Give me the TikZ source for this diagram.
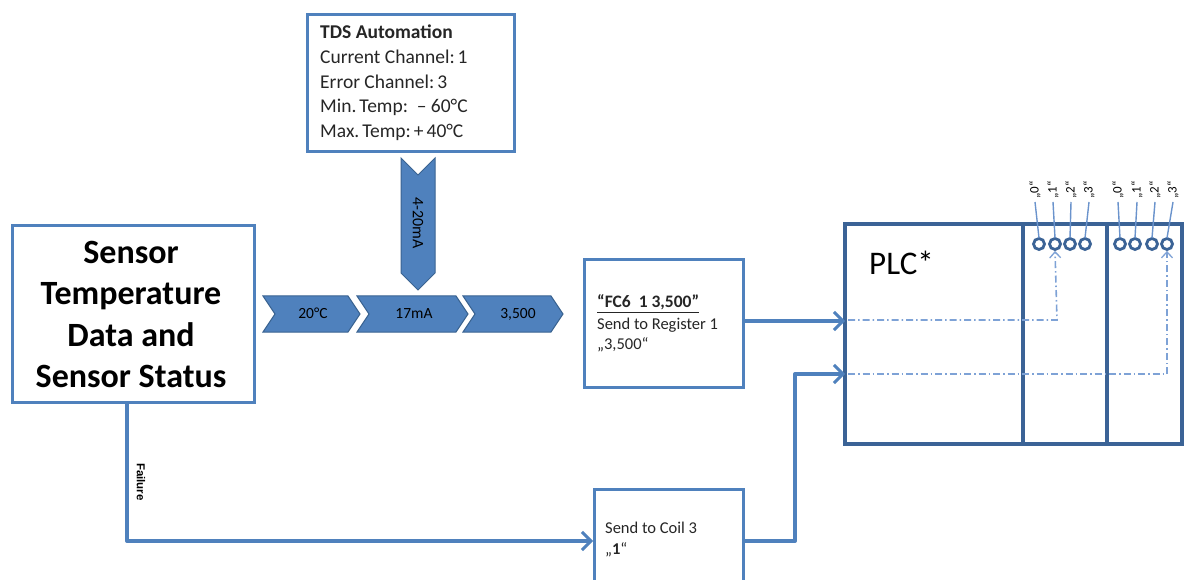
\documentclass[tikz,border=0pt]{standalone}
\usepackage{fontspec}
\setmainfont{Carlito}
\newfontfamily\arialf{Liberation Sans}
\usetikzlibrary{arrows.meta}
\definecolor{boxblue}{HTML}{4F81BD}
\definecolor{plcblue}{HTML}{3B6396}
\definecolor{chevborder}{HTML}{3A6391}
\definecolor{dashblue}{HTML}{7EA2D6}
\definecolor{tickblue}{HTML}{6A93CC}
\tikzset{
  box/.style={draw=boxblue, line width=3pt, fill=white, anchor=north west, inner sep=0pt},
  plcbox/.style={draw=plcblue, line width=3.5pt},
  conn/.style={draw=boxblue, line width=4pt, line join=round, -{Straight Barb[length=9pt,width=18pt,line width=3pt]}},
  chev/.style={fill=boxblue, draw=chevborder, line width=1pt},
  dashln/.style={draw=dashblue, line width=1.6pt, dash pattern=on 7pt off 3pt on 1.5pt off 3pt, -{Straight Barb[length=6pt,width=11pt,line width=1.3pt]}},
  tick/.style={draw=tickblue, line width=1.4pt},
  coil/.style={draw=plcblue, line width=2.8pt, circle, minimum size=11pt, inner sep=0pt},
  txt/.style={anchor=base west, inner sep=0pt, text=black!85},
  tdstxt/.style={txt, font=\fontsize{19.5}{25}\selectfont},
  sens/.style={anchor=base, inner sep=0pt, font=\fontsize{34}{41}\selectfont\bfseries},
  chevtxt/.style={anchor=base, inner sep=0pt, font=\fontsize{15.5}{18}\selectfont},
}
\begin{document}
\begin{tikzpicture}[x=1pt,y=-1pt]
\useasboundingbox (0,0) rectangle (1184,580);
\fill[white] (0,0) rectangle (1184,580);

% Sensor box
\node[box, minimum width=242pt, minimum height=177pt] (sensor) at (11,224) {};
\node[sens] (sl1) at (131,264) {Sensor};
\node[sens] (sl2) at (131,305) {Temperature};
\node[sens] (sl3) at (131,346) {Data and};
\node[sens] (sl4) at (131,387) {Sensor Status};

% TDS box
\node[box, minimum width=207pt, minimum height=137pt] (tds) at (306,13) {};
\node[tdstxt, font=\fontsize{19.5}{25}\selectfont\bfseries] (t1) at (320,39) {TDS Automation};
\node[tdstxt] (t2) at (320,64) {Current Channel:\kern3pt 1};
\node[tdstxt] (t3) at (320,89) {Error Channel:\kern3pt 3};
\node[tdstxt] (t4) at (320,113) {Min.\kern3pt Temp:\ \ -- 60°C};
\node[tdstxt] (t5) at (320,138) {Max.\kern3pt Temp:\kern3pt +\kern3pt 40°C};

% down arrow 4-20mA
\fill[chev] (401,158) -- (418,175) -- (435,158) -- (435,273) -- (418,290) -- (401,273) -- cycle;
\node[rotate=-90, font=\fontsize{16}{18}\selectfont, inner sep=0pt] (ma) at (418,223) {4-20mA};

% chevrons
\fill[chev] (263,296) -- (348,296) -- (360,314) -- (348,332) -- (263,332) -- (275,314) -- cycle;
\fill[chev] (357,296) -- (456,296) -- (468,314) -- (456,332) -- (357,332) -- (369,314) -- cycle;
\fill[chev] (463,296) -- (551,296) -- (563,314) -- (551,332) -- (463,332) -- (475,314) -- cycle;
\node[chevtxt] (c1) at (313,319) {20°C};
\node[chevtxt] (c2) at (414,319) {17mA};
\node[chevtxt] (c3) at (518,319) {3,500};

% FC6 box
\node[box, minimum width=159pt, minimum height=128pt] (fc) at (583,258) {};
\node[txt, font=\fontsize{17.5}{20}\selectfont\bfseries] (f1) at (597,308) {\underline{“FC6\ \ 1\ 3,500”}};
\node[txt, font=\fontsize{16.5}{20}\selectfont] (f2) at (597,330) {Send to Register 1};
\node[txt, font=\fontsize{16.5}{20}\selectfont] (f3) at (597,349) {„3,500“};

% Coil box
\node[box, minimum width=149pt, minimum height=110pt] (coilbox) at (593,488) {};
\node[txt, font=\fontsize{16.5}{20}\selectfont] (k1) at (605,533) {Send to Coil 3};
\node[txt, font=\fontsize{16.5}{20}\selectfont] (k2) at (605,554) {„\textbf{1}“};

% PLC
\draw[plcbox] (845,224) rectangle (1182,444);
\draw[plcbox] (1023,224) -- (1023,444);
\draw[plcbox] (1107,224) -- (1107,444);
\node[anchor=base west, inner sep=0pt, font=\fontsize{33}{36}\selectfont] (plc) at (869,275) {PLC*};

% ticks and labels
\foreach \i/\x/\lx/\l in {a0/1039/1035/0,a1/1055/1053/1,a2/1070/1071/2,a3/1085/1089/3,b0/1120/1118/0,b1/1135/1137/1,b2/1152/1155/2,b3/1167/1173/3}{
  \node[coil] (\i) at (\x,244) {};
  \coordinate (top\i) at (\lx,202);
  \draw[tick] (top\i) -- (\x,238);
  \node[rotate=90, inner sep=0pt, font=\fontsize{13}{14}\selectfont] (lab\i) at (\lx,190) {„\l“};
}

% dash-dot lines
\coordinate (d1s) at (848,320);
\coordinate (d1c) at (1057,320);
\draw[dashln] (d1s) -- (d1c) -- (a1.south);
\coordinate (d2s) at (848,374);
\coordinate (d2c) at (1167,374);
\draw[dashln] (d2s) -- (d2c) -- (b3.south);

% connectors
\coordinate (plcin1) at (845,321);
\coordinate (plcin2) at (845,374);
\draw[conn] (fc.east |- plcin1) -- (plcin1);
\coordinate (bend2) at (795,541);
\draw[conn] (coilbox.east |- bend2) -- (bend2) |- (plcin2);
\coordinate (fs) at (127,403);
\coordinate (fc2) at (127,541);
\draw[conn] (fs) -- (fc2) -- (coilbox.west |- fc2);
\node[rotate=-90, inner sep=0pt, font=\arialf\fontsize{11.5}{13}\selectfont\bfseries] (fail) at (141,482) {Failure};

\end{tikzpicture}
\end{document}
